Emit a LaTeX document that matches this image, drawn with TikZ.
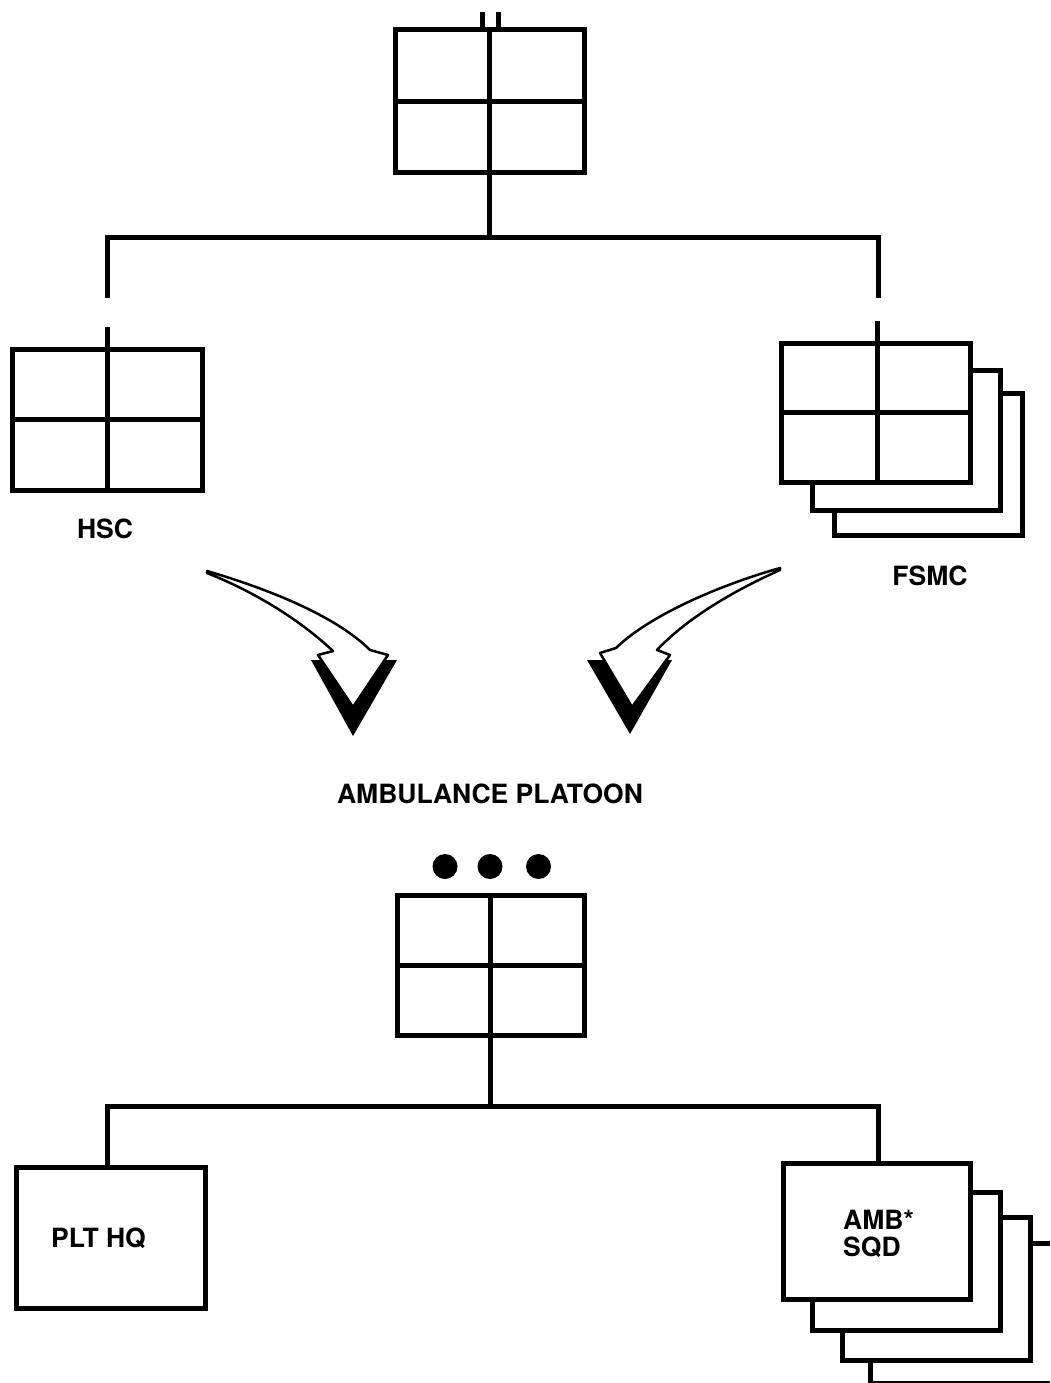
\documentclass[tikz,border=0pt]{standalone}
\usepackage{fontspec}
\setmainfont{TeX Gyre Heros}
\begin{document}
\begin{tikzpicture}[x=1pt,y=-1pt,
  box/.style={draw,line width=5pt,fill=white,inner sep=0pt,outer sep=0pt,rectangle},
  conn/.style={line width=5pt},
  lbl/.style={font=\fontsize{26.5}{30}\selectfont\bfseries,inner sep=0pt},
  dot/.style={circle,fill=black,inner sep=0pt,minimum size=25pt},
  arrowbody/.style={draw,line width=2.5pt,fill=white,line join=round}]
\useasboundingbox (0,0) rectangle (1050,1383);
\fill[white] (0,0) rectangle (1050,1383);

% ---------- top company box ----------
\node[box,minimum width=189pt,minimum height=143pt] (top) at (489.5,101.5) {};
\draw[conn] (top.north) -- (top.south);
\draw[conn] (top.west) -- (top.east);
\coordinate (t1) at (482,12);
\coordinate (t2) at (498,12);
\draw[conn] (t1) -- (t1 |- top.north);
\draw[conn] (t2) -- (t2 |- top.north);

% bus to HSC / FSMC
\coordinate (busL) at (107,237);
\coordinate (busR) at (878,237);
\coordinate (dropL) at (107,298);
\coordinate (dropR) at (878,298);
\draw[conn] (top.south) -- (top.south |- busL);
\draw[conn,line join=miter] (dropL) -- (busL) -- (busR) -- (dropR);

% ---------- HSC ----------
\node[box,minimum width=190pt,minimum height=141pt] (hsc) at (107,419.5) {};
\draw[conn] (hsc.west) -- (hsc.east);
\coordinate (hsctick) at (107,327);
\draw[conn] (hsctick) -- (hsc.south);
\node[lbl,anchor=base] (hscl) at (105,538) {HSC};

% ---------- FSMC (stacked) ----------
\node[box,minimum width=188pt,minimum height=142pt] (fsmc3) at (928,464) {};
\node[box,minimum width=188pt,minimum height=140pt] (fsmc2) at (906,440) {};
\node[box,minimum width=189pt,minimum height=139pt] (fsmc1) at (875.5,412.5) {};
\draw[conn] (fsmc1.west) -- (fsmc1.east);
\coordinate (fsmctick) at (877,321);
\draw[conn] (fsmctick) -- (fsmctick |- fsmc1.south);
\node[lbl,anchor=base] (fsmcl) at (930,585) {FSMC};

% ---------- curved arrows ----------
\fill[black] (311,660) -- (397,660) -- (353,736) -- cycle;
\path[arrowbody] (207,571) .. controls (265,588) and (335,615) .. (370,650)
  -- (388,655) -- (353,707) -- (318,655) -- (333,651)
  .. controls (300,620) and (255,592) .. (207,573) -- cycle;

\fill[black] (587,660) -- (672,660) -- (630,734) -- cycle;
\path[arrowbody] (780,568) .. controls (720,585) and (650,615) .. (616,648)
  -- (600,653) -- (632,707) -- (670,655) -- (657,650)
  .. controls (690,615) and (740,588) .. (780,570) -- cycle;

% ---------- Ambulance platoon ----------
\node[lbl,anchor=base] (ampl) at (490,803) {AMBULANCE PLATOON};
\node[dot] (d1) at (445,866.5) {};
\node[dot] (d2) at (490,866.5) {};
\node[dot] (d3) at (538.5,866.5) {};

\node[box,minimum width=187pt,minimum height=140pt] (plt) at (490.5,965) {};
\draw[conn] (plt.north) -- (plt.south);
\draw[conn] (plt.west) -- (plt.east);

\coordinate (bus2L) at (107,1106);
\coordinate (bus2R) at (878,1106);
\draw[conn] (plt.south) -- (plt.south |- bus2L);

% PLT HQ
\node[box,minimum width=189pt,minimum height=141pt] (hq) at (110.5,1237.5) {};
\node[lbl,anchor=base] (hql) at (98.5,1247) {PLT HQ};

% AMB SQD stack
\node[box,minimum width=188pt,minimum height=143pt] (amb3) at (936,1288.5) {};
\node[box,minimum width=188pt,minimum height=138pt] (amb2) at (906,1261) {};
\node[box,minimum width=187pt,minimum height=136pt] (amb1) at (876.5,1231) {};
\node[lbl,anchor=base west] (ambl1) at (843,1229) {AMB*};
\node[lbl,anchor=base west] (ambl2) at (843,1256) {SQD};

\draw[conn,line join=miter] (bus2L |- hq.north) -- (bus2L) -- (bus2R) -- (bus2R |- amb1.north);

% cut-off continuation at right/bottom edges
\coordinate (stubE) at (1050,1243);
\draw[conn] (amb3.east |- stubE) -- (stubE);
\coordinate (botS) at (870,1383);
\draw[conn] (botS |- amb3.south) -- (botS);
\coordinate (botE) at (1050,1382);
\draw[line width=2pt] (botS |- botE) -- (botE);
\end{tikzpicture}
\end{document}
